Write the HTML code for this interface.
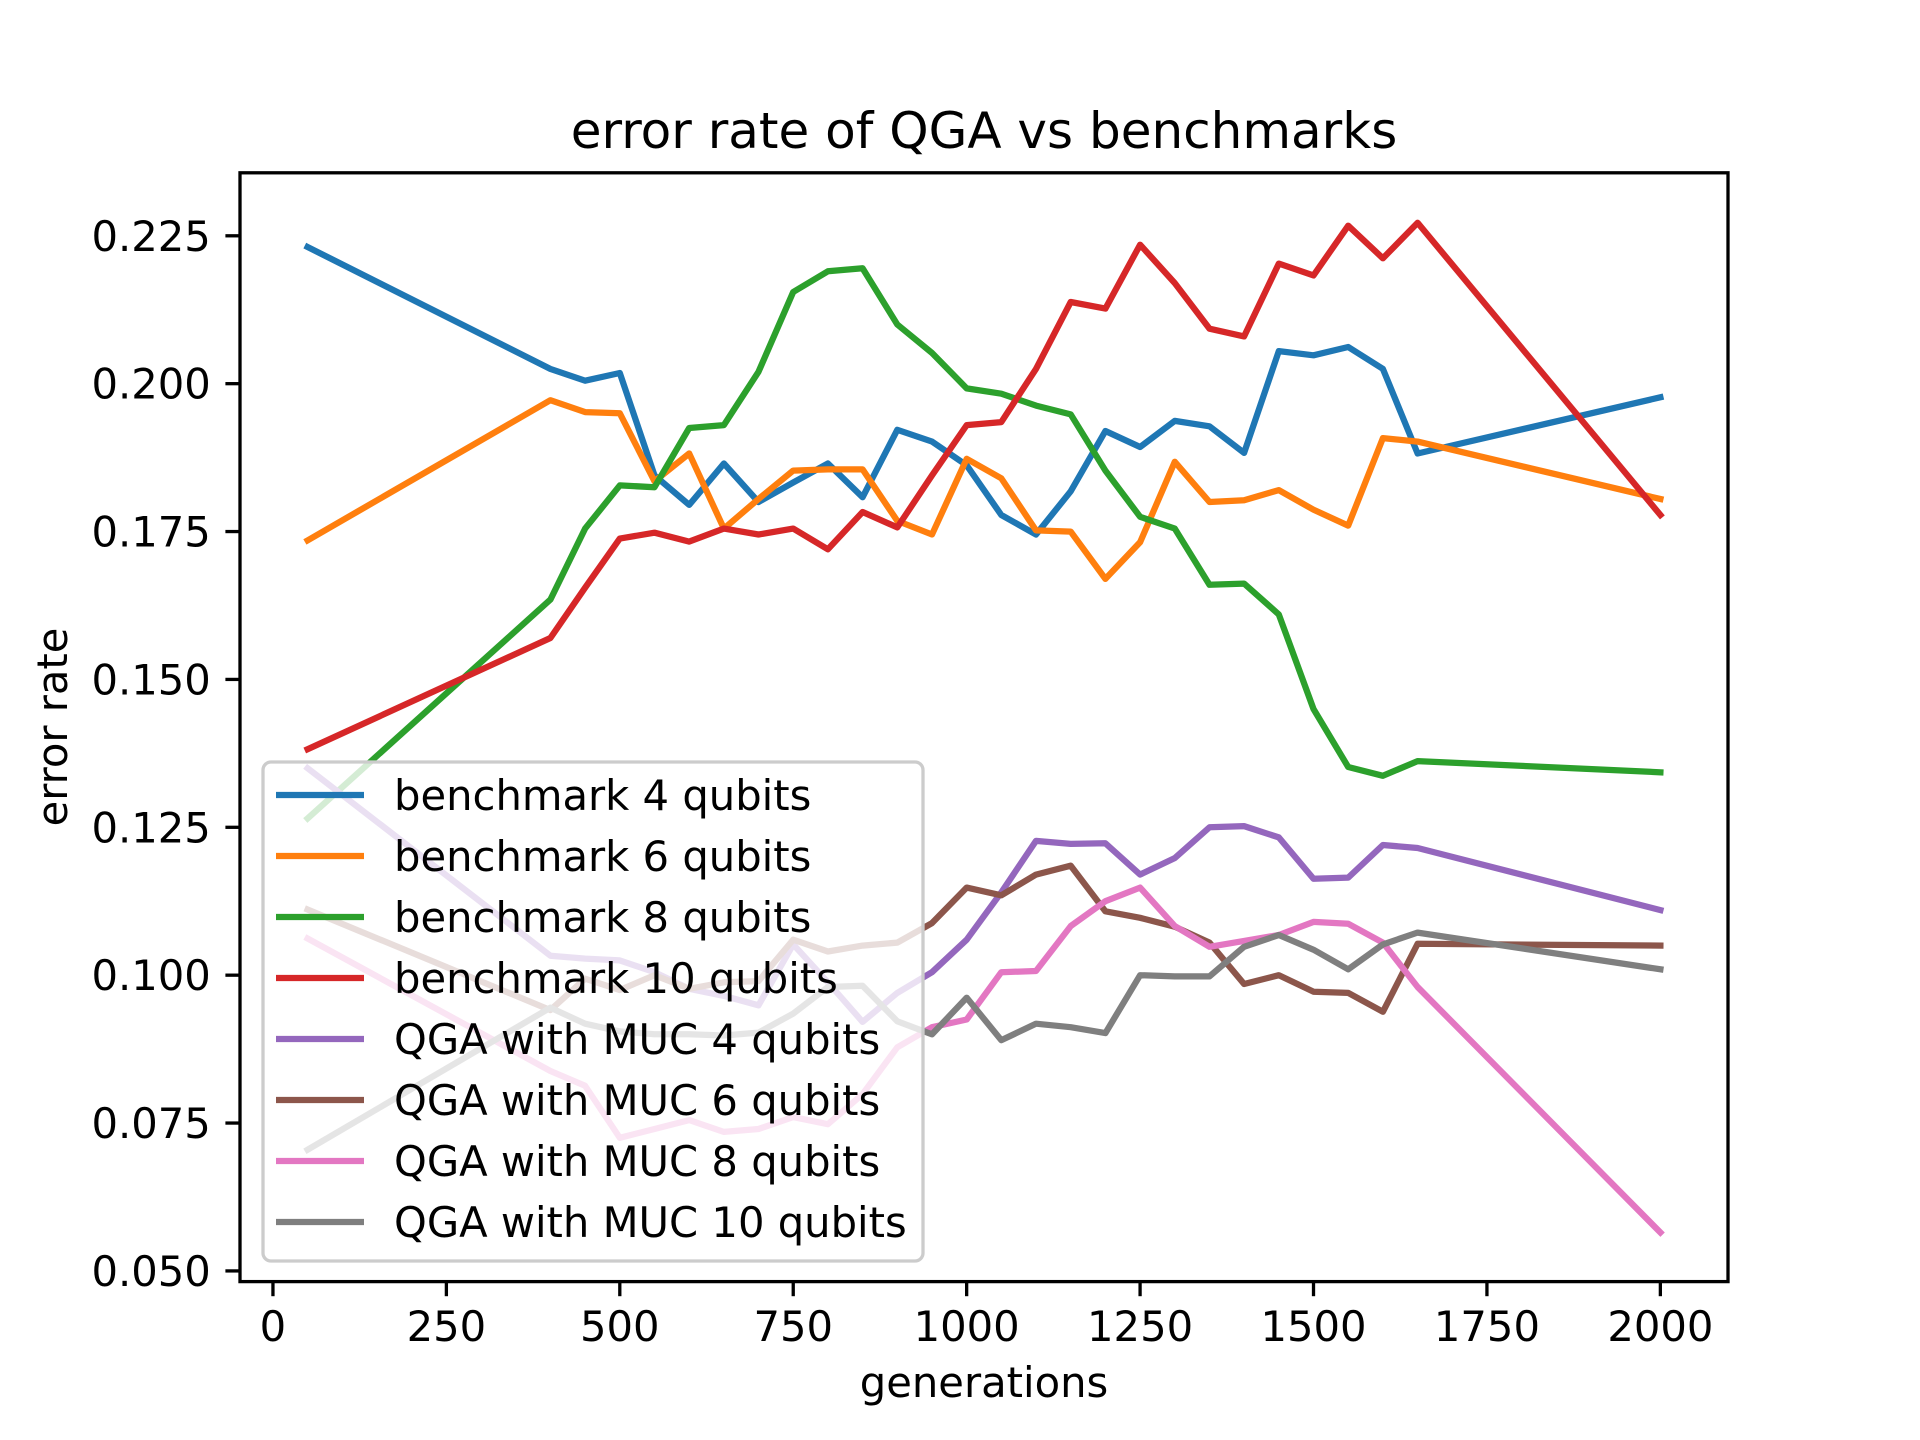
<!DOCTYPE html>
<html><head><meta charset="utf-8">
<style>
html,body{margin:0;padding:0;background:#fff;}
svg{display:block;font-family:"DejaVu Sans","Liberation Sans",sans-serif;}
</style></head>
<body>
<svg id="chart" width="1920" height="1440" viewBox="0 0 1920 1440" xmlns="http://www.w3.org/2000/svg">
<rect width="1920" height="1440" fill="#fff"/>
<text x="984" y="148" font-size="50" text-anchor="middle">error rate of QGA vs benchmarks</text>
<text x="984" y="1397" font-size="41.7" text-anchor="middle">generations</text>
<text transform="translate(67,727) rotate(-90)" font-size="41.7" text-anchor="middle">error rate</text>
<g id="plot"></g>
</svg>
<script>
const generations=[50,400,450,500,550,600,650,700,750,800,850,900,950,1000,1050,1100,1150,1200,1250,1300,1350,1400,1450,1500,1550,1600,1650,2000];
const bench4=[0.2231,0.2025,0.2005,0.2018,0.1845,0.1795,0.1865,0.1800,0.1833,0.1865,0.1808,0.1922,0.1902,0.1862,0.1778,0.1745,0.1818,0.1920,0.1893,0.1937,0.1928,0.1883,0.2055,0.2048,0.2062,0.2025,0.1882,0.1977];
const bench6=[0.1735,0.1972,0.1952,0.1950,0.1835,0.1882,0.1755,0.1805,0.1853,0.1855,0.1855,0.1768,0.1745,0.1873,0.1840,0.1752,0.1750,0.1670,0.1732,0.1868,0.1800,0.1803,0.1820,0.1787,0.1760,0.1908,0.1902,0.1805];
const bench8=[0.1265,0.1635,0.1755,0.1828,0.1825,0.1925,0.1930,0.2020,0.2155,0.2190,0.2195,0.2100,0.2052,0.1992,0.1983,0.1963,0.1948,0.1853,0.1775,0.1755,0.1660,0.1662,0.1610,0.1450,0.1352,0.1337,0.1362,0.1343];
const bench10=[0.1382,0.1570,0.1655,0.1738,0.1748,0.1733,0.1755,0.1745,0.1755,0.1720,0.1783,0.1757,0.1845,0.1930,0.1935,0.2025,0.2138,0.2127,0.2235,0.2170,0.2093,0.2080,0.2203,0.2183,0.2267,0.2212,0.2272,0.1778];
const qga4=[0.1350,0.1033,0.1028,0.1025,0.1005,0.0977,0.0965,0.0949,0.1052,0.0988,0.0921,0.0970,0.1005,0.1060,0.1140,0.1227,0.1222,0.1223,0.1170,0.1198,0.1250,0.1252,0.1233,0.1163,0.1165,0.1220,0.1215,0.1110];
const qga6=[0.1111,0.0941,0.0994,0.0975,0.1000,0.0977,0.0988,0.0990,0.1060,0.1040,0.1050,0.1055,0.1088,0.1148,0.1135,0.1170,0.1185,0.1108,0.1097,0.1082,0.1055,0.0985,0.1000,0.0972,0.0970,0.0938,0.1053,0.1050];
const qga8=[0.1062,0.0838,0.0813,0.0725,0.0740,0.0755,0.0735,0.0740,0.0760,0.0748,0.0799,0.0878,0.0912,0.0925,0.1005,0.1007,0.1083,0.1125,0.1148,0.1083,0.1048,0.1058,0.1068,0.1090,0.1087,0.1055,0.0980,0.0565];
const qga10=[0.0705,0.0945,0.0918,0.0905,0.0900,0.0900,0.0898,0.0903,0.0935,0.0980,0.0982,0.0922,0.0900,0.0962,0.0890,0.0918,0.0912,0.0902,0.1000,0.0998,0.0998,0.1048,0.1068,0.1043,0.1010,0.1052,0.1072,0.1010];
const seriesNames=["benchmark 4 qubits","benchmark 6 qubits","benchmark 8 qubits","benchmark 10 qubits","QGA with MUC 4 qubits","QGA with MUC 6 qubits","QGA with MUC 8 qubits","QGA with MUC 10 qubits"];
const seriesValues=[bench4,bench6,bench8,bench10,qga4,qga6,qga8,qga10];
const xTicks=[0,250,500,750,1000,1250,1500,1750,2000];
const yTicks=[0.050,0.075,0.100,0.125,0.150,0.175,0.200,0.225];

const colors=["#1f77b4","#ff7f0e","#2ca02c","#d62728","#9467bd","#8c564b","#e377c2","#7f7f7f"];
const AX={l:240,r:1728,t:172.8,b:1281.6};
const XMIN=-47.5,XMAX=2097.5;
function xs(v){return AX.l+(v-XMIN)/(XMAX-XMIN)*(AX.r-AX.l);}
function ys(v){return 235.8+(0.225-v)*5915;}
const NS="http://www.w3.org/2000/svg";
const plot=document.getElementById('plot');
function mk(tag,attrs,parent){const e=document.createElementNS(NS,tag);for(const k in attrs)e.setAttribute(k,attrs[k]);(parent||plot).appendChild(e);return e;}

const clip=mk('clipPath',{id:'clip'});mk('rect',{x:AX.l,y:AX.t,width:AX.r-AX.l,height:AX.b-AX.t},clip);

seriesValues.forEach((vals,i)=>{
  const d=vals.map((v,j)=>(j?'L':'M')+xs(generations[j]).toFixed(1)+','+ys(v).toFixed(1)).join(' ');
  const p=mk('path',{d:d,fill:'none',stroke:colors[i],'stroke-width':6.25,'stroke-linejoin':'round','stroke-linecap':'square','clip-path':'url(#clip)'});
  
  
});

const frame=mk('rect',{x:AX.l,y:AX.t,width:AX.r-AX.l,height:AX.b-AX.t,fill:'none',stroke:'#000','stroke-width':3.3});



xTicks.forEach(t=>{
  const x=xs(t);
  mk('line',{x1:x,x2:x,y1:AX.b,y2:AX.b+14.6,stroke:'#000','stroke-width':3.3});
  const tx=mk('text',{x:x,y:AX.b+14.6+14.6+30,'font-size':41.7,'text-anchor':'middle'});
  tx.textContent=t;
  
  
});
yTicks.forEach(t=>{
  const y=ys(t);
  mk('line',{x1:AX.l-14.6,x2:AX.l,y1:y,y2:y,stroke:'#000','stroke-width':3.3});
  const tx=mk('text',{x:AX.l-14.6-14.6,y:y+15,'font-size':41.7,'text-anchor':'end'});
  tx.textContent=t.toFixed(3);
  
  
});

const lg=mk('g',{});


mk('rect',{x:263,y:762,width:660,height:499,rx:8,fill:'#fff','fill-opacity':0.8,stroke:'#cccccc','stroke-width':3.3},lg);
seriesNames.forEach((n,i)=>{
  const y=795+i*61;
  const en=mk('g',{},lg);
  
  
  mk('line',{x1:276,x2:364,y1:y,y2:y,stroke:colors[i],'stroke-width':6.25},en);
  const tx=mk('text',{x:394,y:y+15,'font-size':41.7},en);
  tx.textContent=n;
});
</script>
</body></html>
